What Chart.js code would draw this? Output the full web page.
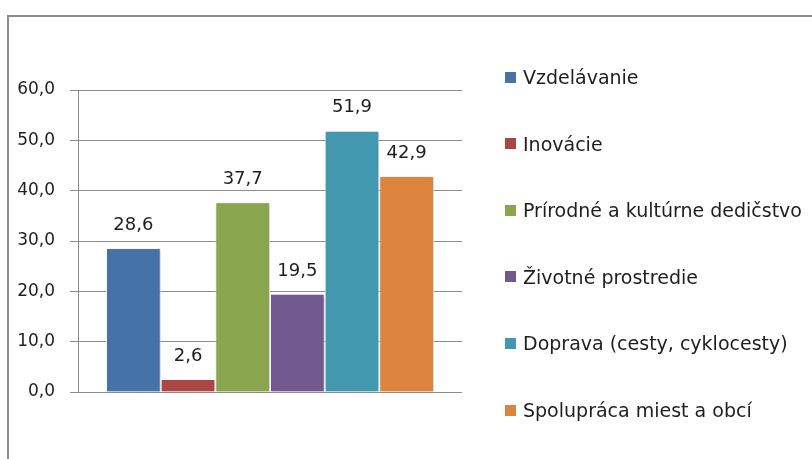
<!DOCTYPE html>
<html lang="sk">
<head>
    <meta charset="UTF-8">
    <title>Oblasti</title>
    <script src="https://cdn.jsdelivr.net/npm/chart.js"></script>
    <style>
        body {
            margin: 0;
            background: #fff;
            width: 812px;
            height: 459px;
            overflow: hidden;
            position: relative;
            font-family: 'DejaVu Sans', sans-serif;
        }

        .frame {
            position: absolute;
            left: 7px;
            top: 15px;
            width: 900px;
            height: 500px;
            border-left: 2px solid #8c8c8c;
            border-top: 2px solid #8c8c8c;
        }

        canvas {
            position: absolute;
            left: 0;
            top: 0;
        }

        #legend {
            position: absolute;
            left: 505px;
            top: 0;
        }

        .legend-item {
            position: absolute;
            left: 0;
            height: 22px;
            line-height: 22px;
            white-space: nowrap;
            font-size: 19px;
            color: #1e1e1e;
            display: flex;
            align-items: center;
        }

        .legend-box {
            width: 11px;
            height: 11px;
            margin-right: 7px;
            flex: none;
        }
    </style>
</head>
<body>
    <div class="frame"></div>
    <canvas id="chart" width="812" height="459"></canvas>
    <div id="legend"></div>

    <script>
        const categories = ['Vzdelávanie', 'Inovácie', 'Prírodné a kultúrne dedičstvo',
            'Životné prostredie', 'Doprava (cesty, cyklocesty)', 'Spolupráca miest a obcí'];
        const values = [28.6, 2.6, 37.7, 19.5, 51.9, 42.9];
        const colors = ['#4572a7', '#aa4643', '#89a54e', '#71588f', '#4198af', '#db843d'];
        const yTicks = [0, 10, 20, 30, 40, 50, 60];

        const fontFamily = "'DejaVu Sans', sans-serif";
        const fmt = v => v.toFixed(1).replace('.', ',');

        const valueLabels = {
            id: 'valueLabels',
            afterDatasetsDraw(chart) {
                const ctx = chart.ctx;
                ctx.save();
                ctx.font = '18px ' + fontFamily;
                ctx.fillStyle = '#1e1e1e';
                ctx.textAlign = 'center';
                ctx.textBaseline = 'middle';
                chart.data.datasets.forEach((ds, i) => {
                    const bar = chart.getDatasetMeta(i).data[0];
                    ctx.fillText(fmt(ds.data[0]), bar.x, bar.y - 23);
                });
                ctx.restore();
            }
        };

        const barShadow = {
            id: 'barShadow',
            beforeDatasetsDraw(chart) {
                const ctx = chart.ctx;
                ctx.save();
                ctx.shadowColor = 'rgba(0,0,0,0.25)';
                ctx.shadowBlur = 3;
                ctx.shadowOffsetX = 1;
                ctx.shadowOffsetY = 1;
            },
            afterDatasetsDraw(chart) {
                chart.ctx.restore();
            }
        };

        const chart = new Chart(document.getElementById('chart'), {
            type: 'bar',
            data: {
                labels: [''],
                datasets: categories.map((c, i) => ({
                    label: c,
                    data: [values[i]],
                    backgroundColor: colors[i],
                    borderColor: '#ffffff',
                    borderWidth: 1
                }))
            },
            options: {
                responsive: false,
                animation: false,
                categoryPercentage: 0.854,
                barPercentage: 1,
                layout: {
                    padding: { top: 90, bottom: 67, left: 0, right: 350 }
                },
                scales: {
                    x: {
                        display: false
                    },
                    y: {
                        min: 0,
                        max: 60,
                        afterBuildTicks(scale) {
                            scale.ticks = yTicks.map(v => ({ value: v }));
                        },
                        afterFit(scale) {
                            scale.width = 78;
                        },
                        grid: {
                            color: '#8c8c8c',
                            tickLength: 8
                        },
                        border: {
                            color: '#8c8c8c'
                        },
                        ticks: {
                            padding: 15,
                            color: '#1e1e1e',
                            font: { family: fontFamily, size: 17 },
                            callback: v => fmt(v)
                        }
                    }
                },
                plugins: {
                    tooltip: { enabled: false },
                    legend: { display: false }
                }
            },
            plugins: [barShadow, valueLabels]
        });

        // legend as html, built from the chart's datasets
        const legend = document.getElementById('legend');
        chart.data.datasets.forEach((ds, i) => {
            const item = document.createElement('div');
            item.className = 'legend-item';
            item.style.top = (77 + i * 66.6 - 11) + 'px';
            const box = document.createElement('span');
            box.className = 'legend-box';
            box.style.background = ds.backgroundColor;
            const text = document.createElement('span');
            text.textContent = ds.label;
            item.appendChild(box);
            item.appendChild(text);
            legend.appendChild(item);
        });
    </script>
</body>
</html>
